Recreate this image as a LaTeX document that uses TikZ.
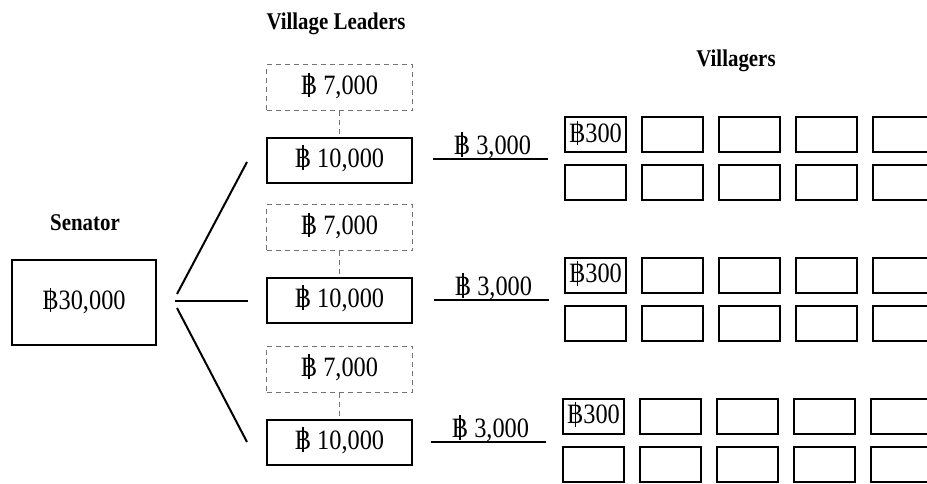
\documentclass[tikz,border=0pt]{standalone}
\usepackage{fontspec}
\setmainfont[FakeStretch=0.87]{Liberation Serif}
\usetikzlibrary{calc}
% Thai baht sign: a B crossed by a thin vertical stroke
\newcommand\baht{\ooalign{B\cr\hidewidth\rule[-0.1em]{0.045em}{0.88em}\hidewidth\cr}}
\begin{document}
\begin{tikzpicture}[x=1pt,y=-1pt,
  numtext/.style={font=\fontsize{28}{32}\selectfont, inner sep=0pt},
  headtext/.style={font=\fontsize{24}{28}\selectfont\bfseries, inner sep=0pt},
  solidbox/.style={draw, line width=2pt, inner sep=0pt, numtext},
  leaderbox/.style={solidbox, minimum width=145pt, minimum height=45pt},
  pledgebox/.style={draw=black!55, dash pattern=on 5pt off 4pt, line width=1pt,
    minimum width=146pt, minimum height=46pt, inner sep=0pt, numtext},
  villbox/.style={solidbox, minimum width=61pt, minimum height=35pt},
  link/.style={line width=2pt},
  pledgelink/.style={draw=black!55, dash pattern=on 5pt off 4pt, line width=1pt}]
\useasboundingbox (0,0) rectangle (927,483);
\clip (0,0) rectangle (927,483);

% headings
\node[headtext] (head-leaders) at (336,23.5) {Village Leaders};
\node[headtext] (head-villagers) at (736,61) {Villagers};
\node[headtext] (head-senator) at (85,222.5) {Senator};

% senator
\node[solidbox, minimum width=144pt, minimum height=85pt] (senator) at (84,302.5) {\baht30,000};

% fan out to the three leaders
\coordinate (fan-up-a) at (177,294);
\coordinate (fan-up-b) at (247,162);
\coordinate (fan-mid-a) at (175,301);
\coordinate (fan-mid-b) at (248,301);
\coordinate (fan-low-a) at (177,308);
\coordinate (fan-low-b) at (247,442);
\draw[link] (fan-up-a) -- (fan-up-b);
\draw[link] (fan-mid-a) -- (fan-mid-b);
\draw[link] (fan-low-a) -- (fan-low-b);

% village leaders with the share they keep
\foreach \g/\yl/\yd in {1/160/87.5, 2/300/227.5, 3/442/369} {
  \node[leaderbox] (lead-\g) at (339.5,\yl) {\baht{} 10,000};
  \node[pledgebox] (pledge-\g) at (339.5,\yd) {\baht{} 7,000};
  \draw[pledgelink] (pledge-\g) -- (lead-\g);
}

% payments passed on to the villagers
\foreach \g/\yl/\xa/\xb in {1/159/433/548, 2/300/434/549, 3/442/431/546} {
  \coordinate (pay-\g-a) at (\xa,\yl);
  \coordinate (pay-\g-b) at (\xb,\yl);
  \draw[link] (pay-\g-a) -- (pay-\g-b);
  \node[numtext, anchor=base] (paylabel-\g) at ($(pay-\g-a)!0.5!(pay-\g-b)+(2,-5)$) {\baht{} 3,000};
}

% villagers: two rows of five per leader
\foreach \g/\ya/\yb/\dx in {1/134.5/182.5/0, 2/275/323/0, 3/416/464.5/-2} {
  \node[villbox] (vill-\g-1-1) at (595.5+\dx,\ya) {\baht300};
  \node[villbox] (vill-\g-2-1) at (595.5+\dx,\yb) {};
  \foreach \c in {2,...,5} {
    \pgfmathsetmacro\vx{595.5+77*(\c-1)+\dx}
    \node[villbox] (vill-\g-1-\c) at (\vx,\ya) {};
    \node[villbox] (vill-\g-2-\c) at (\vx,\yb) {};
  }
}
\end{tikzpicture}
\end{document}
